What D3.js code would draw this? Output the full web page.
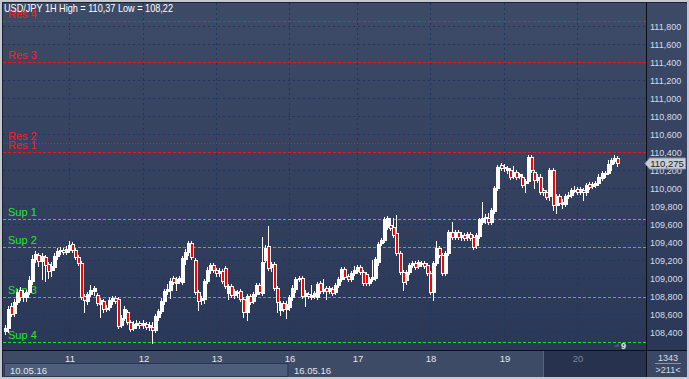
<!DOCTYPE html>
<html><head><meta charset="utf-8">
<script src="https://cdn.jsdelivr.net/npm/d3@7"></script>
<style>
html,body{margin:0;padding:0;background:#c4c8d0;overflow:hidden;}
svg{display:block;}
text{font-family:"Liberation Sans",Arial,sans-serif;}
</style></head><body>
<svg id="c" width="689" height="379"></svg>
<script>
const titleText = "USD/JPY 1H High = 110,37 Low = 108,22";
const yTicks = [108.4,108.6,108.8,109.0,109.2,109.4,109.6,109.8,110.0,110.2,110.4,110.6,110.8,111.0,111.2,111.4,111.6,111.8];
const dayLabels = ["11","12","13","16","17","18","19","20"];
const dayStarts = [21,45,69,93,115,139,163,187];
const periodLabels = ["10.05.16","16.05.16"];
const periodStarts = [0,93];
const resNames = ["Res 4","Res 3","Res 2","Res 1"];
const resValues = [111.86,111.40,110.50,110.40];
const supNames = ["Sup 1","Sup 2","Sup 3","Sup 4"];
const supValues = [109.66,109.34,108.785,108.285];
const lastPrice = 110.275;
const lastPriceLabel = "110,275";
const barsInfo = ["1343",">211<"];
const shiftLabel = "9";

const open = [
108.41,108.44,108.69,108.61,108.73,108.87,108.79,108.79,108.84,108.97,
109.21,109.26,109.19,109.23,109.16,109.09,109.12,109.25,109.30,109.31,
109.29,109.31,109.38,109.31,109.23,109.17,108.80,108.74,108.82,108.86,
108.81,108.71,108.74,108.67,108.68,108.74,108.78,108.77,108.48,108.56,
108.62,108.51,108.44,108.48,108.50,108.48,108.49,108.46,108.46,108.42,
108.57,108.63,108.74,108.86,108.87,109.00,108.94,108.97,108.96,109.21,
109.29,109.39,109.20,108.84,108.76,108.77,108.97,109.09,109.14,109.09,
109.06,109.08,109.11,108.83,108.91,108.81,108.83,108.86,108.77,108.62,
108.80,108.74,108.82,108.92,108.83,109.20,109.36,109.12,109.16,108.89,
108.64,108.72,108.66,108.68,108.79,108.88,108.99,109.00,108.80,108.82,
108.79,108.80,108.79,108.94,108.86,108.89,108.86,108.88,108.84,108.92,
108.99,109.10,109.02,108.99,109.06,109.08,109.12,109.07,109.04,108.94,
108.99,109.00,109.18,109.39,109.42,109.57,109.59,109.57,109.50,109.28,
109.07,108.98,109.07,109.14,109.17,109.13,109.16,109.17,109.14,109.06,
108.84,109.17,109.33,109.26,109.06,109.28,109.51,109.46,109.51,109.46,
109.48,109.46,109.49,109.46,109.37,109.47,109.62,109.67,109.67,109.62,
109.75,110.00,110.26,110.22,110.20,110.20,110.13,110.18,110.13,110.12,
110.06,110.08,110.35,110.18,110.09,110.12,109.98,109.96,109.91,110.20,
109.81,109.91,109.82,109.82,109.91,109.92,109.97,109.99,109.96,109.98,
109.95,110.05,110.02,110.03,110.06,110.11,110.17,110.17,110.27,110.30,
110.33];
const high = [
108.48,108.69,108.72,108.77,108.88,108.90,108.87,108.87,109.02,109.26,
109.30,109.28,109.28,109.26,109.18,109.18,109.28,109.33,109.35,109.33,
109.36,109.41,109.40,109.33,109.26,109.19,108.82,108.84,108.92,108.91,
108.83,108.78,108.77,108.70,108.79,108.80,108.80,108.79,108.59,108.69,
108.64,108.53,108.52,108.53,108.52,108.53,108.51,108.51,108.51,108.60,
108.66,108.78,108.88,108.93,109.00,109.02,109.01,109.02,109.25,109.32,
109.41,109.41,109.22,108.87,108.80,108.99,109.12,109.17,109.17,109.11,
109.11,109.10,109.13,108.93,108.93,108.88,108.87,108.88,108.79,108.82,
108.82,108.84,108.94,108.94,109.46,109.37,109.58,109.18,109.18,108.91,
108.74,108.74,108.74,108.81,108.92,109.01,109.02,109.02,108.87,108.84,
108.92,108.86,108.96,108.97,108.99,108.91,108.91,108.90,108.94,109.01,
109.12,109.12,109.04,109.08,109.13,109.14,109.14,109.09,109.07,109.01,
109.20,109.23,109.40,109.45,109.68,109.69,109.67,109.67,109.70,109.30,
109.09,109.09,109.17,109.19,109.19,109.20,109.19,109.19,109.17,109.08,
109.19,109.41,109.36,109.28,109.30,109.53,109.62,109.53,109.53,109.51,
109.50,109.51,109.51,109.48,109.50,109.67,109.85,109.71,109.72,109.78,
110.02,110.26,110.28,110.27,110.25,110.22,110.25,110.20,110.17,110.15,
110.10,110.37,110.37,110.20,110.15,110.15,110.00,109.98,110.22,110.22,
109.93,109.93,109.88,109.93,109.95,110.00,110.02,110.01,110.01,110.00,
110.06,110.07,110.07,110.08,110.15,110.19,110.19,110.31,110.33,110.37,
110.36];
const low = [
108.38,108.40,108.58,108.58,108.71,108.76,108.74,108.74,108.82,108.93,
109.18,109.13,108.99,108.97,109.00,109.02,109.09,109.21,109.27,109.27,
109.27,109.29,109.29,109.21,109.14,108.77,108.62,108.71,108.80,108.81,
108.70,108.57,108.62,108.63,108.64,108.71,108.72,108.44,108.46,108.53,
108.49,108.41,108.42,108.44,108.44,108.44,108.43,108.42,108.28,108.40,
108.53,108.61,108.71,108.82,108.78,108.93,108.87,108.94,108.93,109.16,
109.26,109.21,108.82,108.64,108.71,108.72,108.94,109.06,109.07,109.02,
109.02,108.94,108.89,108.77,108.79,108.78,108.79,108.74,108.57,108.53,
108.71,108.72,108.80,108.82,108.81,109.18,109.09,109.08,108.87,108.62,
108.59,108.63,108.56,108.64,108.76,108.84,108.97,108.78,108.69,108.78,
108.77,108.78,108.77,108.83,108.83,108.77,108.83,108.81,108.82,108.90,
108.97,108.99,108.97,108.97,109.03,109.06,109.04,108.92,108.92,108.92,
108.97,108.98,109.14,109.37,109.40,109.55,109.53,109.46,109.26,109.04,
108.87,108.93,109.04,109.12,109.10,109.11,109.13,109.11,109.03,108.82,
108.76,109.14,109.23,109.03,109.03,109.26,109.43,109.43,109.43,109.42,
109.42,109.42,109.42,109.32,109.33,109.45,109.60,109.61,109.60,109.60,
109.72,109.98,110.20,110.19,110.17,110.10,110.11,110.10,110.11,110.01,
109.95,110.06,110.18,110.00,110.07,109.93,109.92,109.88,109.87,109.76,
109.72,109.81,109.78,109.80,109.89,109.90,109.95,109.93,109.93,109.87,
109.92,109.99,110.00,110.01,110.03,110.09,110.12,110.15,110.20,110.28,
110.25];
const close = [
108.44,108.66,108.60,108.73,108.84,108.79,108.83,108.84,108.98,109.21,
109.27,109.19,109.25,109.14,109.08,109.13,109.25,109.30,109.31,109.29,
109.32,109.37,109.31,109.23,109.17,108.79,108.76,108.82,108.87,108.89,
108.72,108.76,108.66,108.66,108.76,108.78,108.74,108.47,108.56,108.66,
108.51,108.43,108.49,108.50,108.48,108.50,108.46,108.48,108.42,108.58,
108.63,108.74,108.86,108.88,108.97,108.96,108.99,109.00,109.22,109.29,
109.39,109.23,108.84,108.74,108.78,108.97,109.09,109.14,109.09,109.06,
109.08,108.97,108.91,108.91,108.81,108.86,108.84,108.77,108.62,108.80,
108.73,108.82,108.92,108.84,109.18,109.33,109.11,109.16,108.89,108.73,
108.72,108.66,108.71,108.79,108.89,108.99,109.00,108.80,108.83,108.80,
108.81,108.83,108.93,108.86,108.88,108.86,108.89,108.83,108.92,108.99,
109.10,109.01,108.99,109.06,109.09,109.12,109.07,108.94,108.94,108.99,
109.01,109.21,109.38,109.42,109.66,109.67,109.56,109.48,109.28,109.07,
108.96,109.07,109.14,109.17,109.12,109.18,109.17,109.13,109.06,108.84,
109.17,109.33,109.26,109.06,109.28,109.51,109.46,109.51,109.46,109.48,
109.45,109.49,109.45,109.35,109.48,109.65,109.67,109.68,109.62,109.76,
110.00,110.23,110.22,110.23,110.22,110.12,110.18,110.12,110.15,110.03,
110.08,110.35,110.20,110.09,110.12,109.96,109.95,109.90,110.20,109.81,
109.91,109.83,109.85,109.91,109.92,109.98,109.98,109.96,109.99,109.96,
110.03,110.01,110.05,110.06,110.12,110.17,110.15,110.27,110.31,110.33,
110.275];

const svg = d3.select("#c");
const W = 689, H = 379;
const plot = {l:3, t:3, r:646, b:350};

const x = d3.scaleLinear().domain([0, 200]).range([4.8, 616.8]);
const y = d3.scaleLinear().domain([108.4, 111.8]).range([332, 26]);
const fmt = v => d3.format(".3f")(v).replace(".", ",");

const defs = svg.append("defs");
const g1 = defs.append("linearGradient").attr("id","bg").attr("x1",0).attr("y1",0).attr("x2",0).attr("y2",1);
g1.append("stop").attr("offset","0%").attr("stop-color","#3e4b67");
g1.append("stop").attr("offset","100%").attr("stop-color","#2b3757");
defs.append("clipPath").attr("id","pc").append("rect")
  .attr("x",plot.l).attr("y",plot.t).attr("width",plot.r-plot.l).attr("height",plot.b-plot.t);

// frame
svg.append("rect").attr("width",W).attr("height",H).attr("fill","#c4c8d0");
svg.append("rect").attr("x",2).attr("y",2).attr("width",685).attr("height",375).attr("fill","#1c2232");
svg.append("rect").attr("x",plot.l).attr("y",plot.t).attr("width",plot.r-plot.l).attr("height",plot.b-plot.t).attr("fill","url(#bg)");
svg.append("rect").attr("x",647).attr("y",plot.t).attr("width",40).attr("height",plot.b-plot.t).attr("fill","url(#bg)");

// bottom strip
svg.append("rect").attr("x",plot.l).attr("y",351).attr("width",plot.r-plot.l).attr("height",26).attr("fill","#3d4b67");
svg.append("rect").attr("x",4.5).attr("y",363.5).attr("width",x(periodStarts[1])-6).attr("height",13).attr("fill","#4e5d7b").attr("stroke","#2c3752");
svg.append("rect").attr("x",543).attr("y",351).attr("width",plot.r-543).attr("height",26).attr("fill","#27324f");
svg.append("line").attr("x1",543.5).attr("x2",543.5).attr("y1",351).attr("y2",377).attr("stroke","#566480");
svg.append("rect").attr("x",647).attr("y",351).attr("width",40).attr("height",26).attr("fill","#3a4866");

const pg = svg.append("g").attr("clip-path","url(#pc)");

// horizontal grid
pg.selectAll("line.hg").data(yTicks).join("line")
  .attr("x1",plot.l).attr("x2",plot.r)
  .attr("y1",d=>Math.round(y(d))+0.5).attr("y2",d=>Math.round(y(d))+0.5)
  .attr("stroke","#1d3764").attr("stroke-width",1).attr("stroke-dasharray","2,3");
// vertical grid
pg.selectAll("line.vg").data(dayStarts).join("line")
  .attr("x1",d=>Math.round(x(d))+0.5).attr("x2",d=>Math.round(x(d))+0.5)
  .attr("y1",plot.t).attr("y2",plot.b)
  .attr("stroke","#1d3764").attr("stroke-width",1).attr("stroke-dasharray","2,3");

// resistance lines
resValues.forEach((v,i)=>{
  const yy = Math.round(y(v))+0.5;
  pg.append("line").attr("x1",plot.l).attr("x2",plot.r).attr("y1",yy).attr("y2",yy)
    .attr("stroke","#ff1010").attr("stroke-width",1).attr("stroke-dasharray", i===2?"1,2":"3,2");
  pg.append("text").attr("x",8).attr("y",yy-4).attr("fill","#ff1a1a").attr("font-size","11px").text(resNames[i]);
});
supValues.forEach((v,i)=>{
  const yy = Math.round(y(v))+0.5;
  pg.append("line").attr("x1",plot.l).attr("x2",plot.r).attr("y1",yy).attr("y2",yy)
    .attr("stroke","#1ee01e").attr("stroke-width",1).attr("stroke-dasharray","3,2");
  pg.append("text").attr("x",8).attr("y",yy-4).attr("fill","#22e822").attr("font-size","11px").text(supNames[i]);
});

// candles
const idx = d3.range(open.length);
const cg = pg.append("g");
idx.forEach(i=>{
  const px = Math.round(x(i));
  cg.append("line").attr("x1",px+0.5).attr("x2",px+0.5)
    .attr("y1",Math.round(y(high[i]))).attr("y2",Math.round(y(low[i]))+1)
    .attr("stroke","#ffffff").attr("stroke-width",1);
  const top = Math.round(y(Math.max(open[i],close[i])));
  const bot = Math.round(y(Math.min(open[i],close[i])));
  const up = close[i] >= open[i];
  cg.append("rect").attr("x",px-0.5).attr("y",top+0.5)
    .attr("width",3).attr("height",Math.max(bot-top,1))
    .attr("fill", up ? "#ffffff" : "#ff0000").attr("stroke","#ffffff").attr("stroke-width",1);
});

// shift marker
svg.append("path").attr("d","M613,347 L619,343 L619,347 Z").attr("fill","#4a5670");
svg.append("text").attr("x",621).attr("y",348.5).attr("fill","#e6e9ee").attr("font-size","9px").attr("font-weight","bold").text(shiftLabel);

// title
svg.append("text").attr("x",4).attr("y",12).attr("fill","#ffffff").attr("font-size","10.5px")
  .attr("textLength",169).attr("lengthAdjust","spacingAndGlyphs").text(titleText);

// borders
svg.append("line").attr("x1",646.5).attr("x2",646.5).attr("y1",3).attr("y2",377).attr("stroke","#0c0f18");
svg.append("line").attr("x1",3).attr("x2",687).attr("y1",350.5).attr("y2",350.5).attr("stroke","#0c0f18");

// right axis labels
svg.selectAll("text.ya").data(yTicks).join("text")
  .attr("x",650).attr("y",d=>Math.round(y(d))+4)
  .attr("fill","#d8dce4").attr("font-size","9px").text(d=>fmt(d));

// last price box
const ly = Math.round(y(lastPrice));
svg.append("path").attr("d",`M645,${ly+0.5} L649.5,${ly-5} L685.5,${ly-5} L685.5,${ly+6} L649.5,${ly+6} Z`)
  .attr("fill","#c9cdd4").attr("stroke","#8a93a6");
svg.append("text").attr("x",667).attr("y",ly+4).attr("text-anchor","middle").attr("fill","#1a2030")
  .attr("font-size","9.5px").text(lastPriceLabel);

// day labels
svg.selectAll("text.dl").data(dayStarts).join("text")
  .attr("x",d=>Math.round(x(d))+1).attr("y",361.5).attr("text-anchor","middle")
  .attr("fill",(d,i)=> i===dayStarts.length-1 ? "#7c879c" : "#e2e6ec")
  .attr("font-size","9.5px").text((d,i)=>dayLabels[i]);
// period labels
svg.selectAll("text.pl").data(periodStarts).join("text")
  .attr("x",(d,i)=> i===0 ? 10 : Math.round(x(d))+5).attr("y",373.5)
  .attr("fill","#e2e6ec").attr("font-size","9.5px").text((d,i)=>periodLabels[i]);

// bars info
svg.append("text").attr("x",668).attr("y",361).attr("text-anchor","middle").attr("fill","#d8dce4").attr("font-size","9px").text(barsInfo[0]);
svg.append("line").attr("x1",655).attr("x2",681).attr("y1",363.5).attr("y2",363.5).attr("stroke","#8a93a6");
svg.append("text").attr("x",668).attr("y",373).attr("text-anchor","middle").attr("fill","#d8dce4").attr("font-size","9px").text(barsInfo[1]);
</script>
</body></html>
